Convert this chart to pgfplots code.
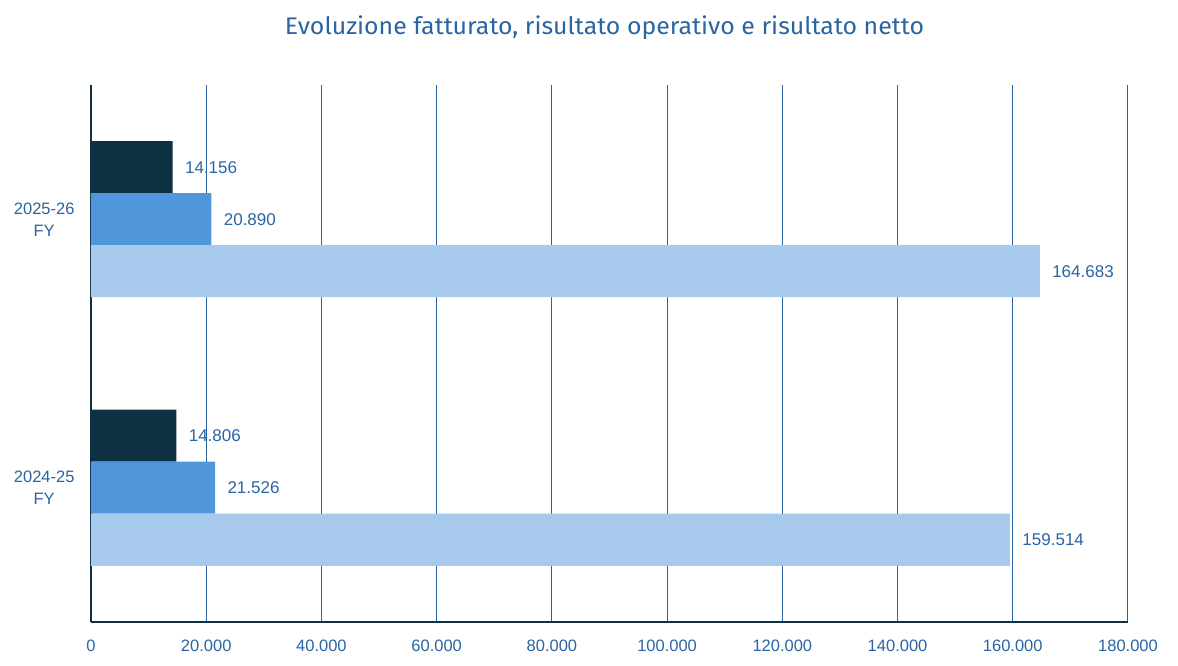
\documentclass[border=0pt]{standalone}
\usepackage{pgfplots}
\pgfplotsset{compat=1.18}
\usepackage{fontspec}
\setmainfont{Liberation Sans}
\newfontfamily\titlefont{Fira Sans}
\definecolor{navy}{RGB}{13,48,66}
\definecolor{midblue}{RGB}{79,150,219}
\definecolor{lightblue}{RGB}{167,202,236}
\definecolor{txtblue}{RGB}{42,100,162}
\begin{document}
\begin{tikzpicture}
\useasboundingbox (-91bp,-44bp) rectangle (1087bp,622bp);
\begin{axis}[
  at={(0,0)}, anchor=south west,
  scale only axis, width=1037bp, height=537bp,
  xbar, bar width=52bp,
  xmin=0, xmax=180000,
  ymin=-0.5, ymax=1.5,
  xtick={0,20000,...,180000},
  ytick={0,1},
  yticklabels={{2024-25\\FY},{2025-26\\FY}},
  scaled x ticks=false,
  /pgf/number format/assume math mode=true,
  /pgf/number format/.cd, fixed, precision=0, 1000 sep={.}, /pgfplots/.cd,
  axis x line*=bottom, axis y line*=left,
  axis line style={draw=navy, line width=2bp, -},
  major tick length=0pt,
  xmajorgrids, grid style={draw=txtblue, line width=1bp},
  tick label style={font=\fontsize{16.5bp}{22bp}\selectfont, text=txtblue},
  yticklabel style={align=center, xshift=-13bp},
  xticklabel style={yshift=-14.5bp},
  point meta=x,
  nodes near coords={\pgfmathprintnumber[fixed,precision=0,1000 sep={.}]{\pgfplotspointmeta}},
  every node near coord/.append style={anchor=west, xshift=9bp, font=\fontsize{17bp}{20bp}\selectfont, text=txtblue},
  clip=false,
]
\addplot[fill=navy, draw=none, bar shift=52bp] coordinates {(14806,0) (14156,1)};
\addplot[fill=midblue, draw=none, bar shift=0bp] coordinates {(21526,0) (20890,1)};
\addplot[fill=lightblue, draw=none, bar shift=-52bp] coordinates {(159514,0) (164683,1)};
\end{axis}
\node[text=txtblue, inner sep=0pt] at (513.5bp,594bp) {\resizebox{639bp}{\height}{\titlefont\fontsize{24bp}{28bp}\selectfont Evoluzione fatturato, risultato operativo e risultato netto}};
\end{tikzpicture}
\end{document}
